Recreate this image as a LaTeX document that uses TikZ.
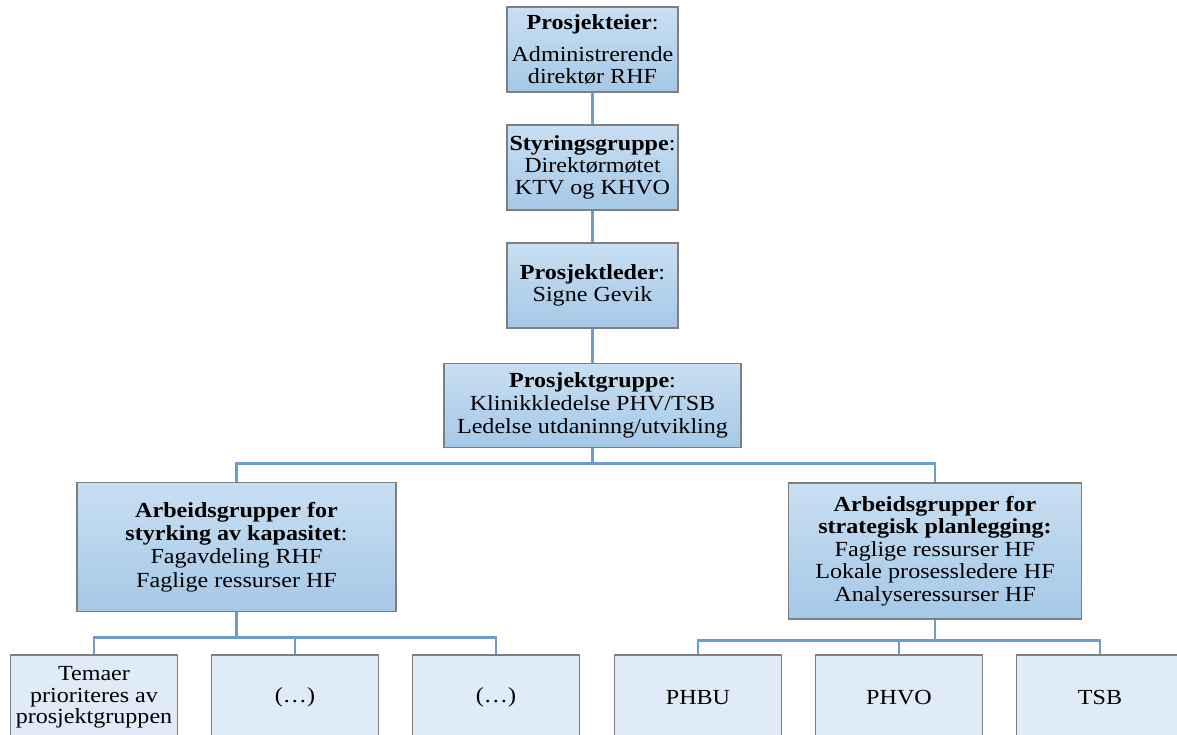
\documentclass[tikz,border=0pt]{standalone}
\usepackage{fontspec}
\setmainfont{Liberation Serif}[FakeStretch=1.12]
\definecolor{boxtop}{HTML}{C9DFF2}
\definecolor{boxbot}{HTML}{A5C8E7}
\definecolor{boxline}{HTML}{7F7F7F}
\definecolor{leaffill}{HTML}{DFEBF6}
\definecolor{linkblue}{HTML}{6C9DCD}
\tikzset{
  mainbox/.style={draw=boxline, line width=1.4pt, top color=boxtop, bottom color=boxbot,
    align=center, inner sep=0pt, font=\fontsize{21.5}{22}\selectfont, text=black},
  widebox/.style={mainbox, font=\fontsize{21.5}{23.2}\selectfont},
  leafbox/.style={draw=boxline, line width=1.4pt, fill=leaffill, minimum width=167pt,
    minimum height=85pt, align=center, inner sep=0pt, font=\fontsize{21.5}{21.5}\selectfont, text=black},
  link/.style={draw=linkblue, line width=2.8pt},
}
\begin{document}
\begin{tikzpicture}[x=1pt, y=-1pt]
\useasboundingbox (0,0) rectangle (1177,735);
\begin{scope}
\clip (0,0) rectangle (1177,735);

% upper chain of command
\node[mainbox, minimum width=171pt, minimum height=85pt] (eier) at (592.5,49.5)
  {\textbf{Prosjekteier}:\\[10pt]Administrerende\\direktør RHF};
\node[mainbox, minimum width=171pt, minimum height=85pt] (styr) at (592.5,167.5)
  {\textbf{Styringsgruppe}:\\Direktørmøtet\\KTV og KHVO};
\node[mainbox, minimum width=171pt, minimum height=85pt] (leder) at (592.5,285.5)
  {\textbf{Prosjektleder}:\\Signe Gevik};
\node[widebox, minimum width=297pt, minimum height=84pt] (gruppe) at (592.5,405.5)
  {\textbf{Prosjektgruppe}:\\Klinikkledelse PHV/TSB\\Ledelse utdaninng/utvikling};

% working groups
\node[widebox, minimum width=319pt, minimum height=129pt] (kap) at (236.5,547)
  {\textbf{Arbeidsgrupper for}\\\textbf{styrking av kapasitet}:\\Fagavdeling RHF\\Faglige ressurser HF};
\node[mainbox, font=\fontsize{21.5}{22.6}\selectfont, minimum width=293pt, minimum height=136pt] (plan) at (935,551)
  {\textbf{Arbeidsgrupper for}\\\textbf{strategisk planlegging:}\\Faglige ressurser HF\\Lokale prosessledere HF\\Analyseressurser HF};

% leaf groups
\node[leafbox] (t1) at (94,697.5) {Temaer\\prioriteres av\\prosjektgruppen};
\node[leafbox] (t2) at (295,697.5) {(…)};
\node[leafbox] (t3) at (496,697.5) {(…)};
\node[leafbox] (p1) at (698,697.5) {PHBU};
\node[leafbox] (p2) at (899,697.5) {PHVO};
\node[leafbox] (p3) at (1100,697.5) {TSB};

% connectors
\draw[link] (eier.south) -- (styr.north);
\draw[link] (styr.south) -- (leder.north);
\draw[link] (leder.south) -- (gruppe.north);
\draw[link] (gruppe.south) -- ++(0,15.5) coordinate (gbar) -| (kap.north);
\draw[link] (gbar) -| (plan.north);
\draw[link] (kap.south) -- ++(0,25.5) coordinate (kbar) -| (t1.north);
\draw[link] (kbar) -| (t2.north);
\draw[link] (kbar) -| (t3.north);
\draw[link] (plan.south) -- ++(0,21) coordinate (pbar) -| (p1.north);
\draw[link] (pbar) -| (p2.north);
\draw[link] (pbar) -| (p3.north);
\end{scope}
\end{tikzpicture}
\end{document}
